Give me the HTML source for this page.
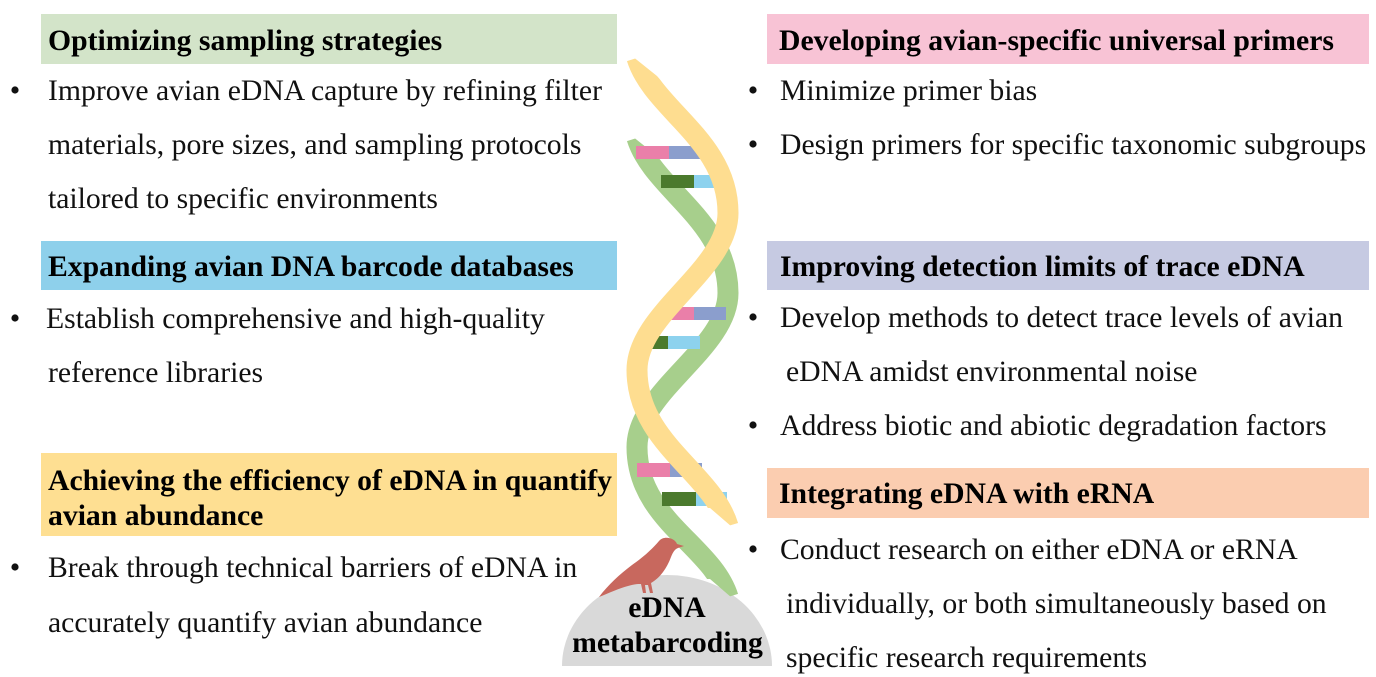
<!DOCTYPE html>
<html>
<head>
<meta charset="utf-8">
<style>
html,body{margin:0;padding:0;background:#fff;}
svg{display:block;}
text{font-family:"Liberation Serif","Times New Roman",serif;font-size:29.7px;fill:#111;font-variant-ligatures:none;}
.b{font-weight:bold;fill:#000;}
</style>
</head>
<body>
<svg width="1376" height="677" viewBox="0 0 1376 677" xmlns="http://www.w3.org/2000/svg">
<defs>
  <clipPath id="cy">
    <polygon points="560,52 627,52 657,76 674,95 698,114 800,114 800,533 739,533 710,508 560,508"/>
  </clipPath>
  <clipPath id="cg">
    <polygon points="560,132 627,132 657,156 674,175 698,194 800,194 800,604 739,604 710,579 560,579"/>
  </clipPath>
</defs>
<rect width="1376" height="677" fill="#fff"/>

<!-- header boxes -->
<rect x="41" y="14" width="576" height="50" fill="#d3e4c9"/>
<rect x="41" y="241" width="576" height="49" fill="#8ed0eb"/>
<rect x="41" y="453" width="576" height="83" fill="#fedf92"/>
<rect x="767" y="14" width="602" height="50" fill="#f8c3d5"/>
<rect x="767" y="241" width="602" height="49" fill="#c6cae2"/>
<rect x="767" y="468" width="602" height="50" fill="#fbcdb0"/>

<!-- dome -->
<path d="M562,666 A105,91 0 0 1 772,666 Z" fill="#d9d9d9"/>

<!-- green strand -->
<path clip-path="url(#cg)" d="M637,138 C653,190 728,220 728,293 C728,349 637,391 637,447 C637,520 712,545 728,597" fill="none" stroke="#a7cf8c" stroke-width="21"/>

<!-- rungs -->
<rect x="636" y="146" width="33" height="13" fill="#ea7fa9"/>
<rect x="669" y="146" width="31" height="13" fill="#8b9ecd"/>
<rect x="661" y="175" width="33" height="13" fill="#4b7a2d"/>
<rect x="694" y="175" width="31" height="13" fill="#8dd2ee"/>
<rect x="663" y="307" width="31" height="13" fill="#ea7fa9"/>
<rect x="694" y="307" width="32" height="13" fill="#8b9ecd"/>
<rect x="637" y="336" width="31" height="13" fill="#4b7a2d"/>
<rect x="668" y="336" width="32" height="13" fill="#8dd2ee"/>
<rect x="637" y="463" width="33" height="14" fill="#ea7fa9"/>
<rect x="670" y="463" width="32" height="14" fill="#8b9ecd"/>
<rect x="662" y="492" width="34" height="14" fill="#4b7a2d"/>
<rect x="696" y="492" width="31" height="14" fill="#8dd2ee"/>

<!-- yellow strand -->
<path clip-path="url(#cy)" d="M637,58 C653,110 728,140 728,213 C728,270 637,313 637,370 C637,443 712,472 728,526" fill="none" stroke="#fedd90" stroke-width="21"/>

<!-- bird -->
<path d="M684,546 L677,544 C675,538 664,535 659,541 C653,548 645,556 632,565 C620,574 608,585 599,597 C609,593 620,588 628,586 C634,584 638,584 641,584 L643,593 L646,593 L645,585 L648,585 L650,593 L653,593 L651,583 C660,578 667,568 671,557 C673,552 675,549 678,548 Z" fill="#c8685e"/>

<!-- dome text -->
<text class="b" x="667" y="617" text-anchor="middle">eDNA</text>
<text class="b" x="667.5" y="652" text-anchor="middle">metabarcoding</text>

<!-- bullets -->
<g fill="#111">
  <circle cx="15" cy="90" r="3.6"/>
  <circle cx="15" cy="318" r="3.6"/>
  <circle cx="15" cy="567" r="3.6"/>
  <circle cx="753" cy="90" r="3.6"/>
  <circle cx="753" cy="144" r="3.6"/>
  <circle cx="753" cy="317" r="3.6"/>
  <circle cx="753" cy="425" r="3.6"/>
  <circle cx="753" cy="549" r="3.6"/>
</g>

<!-- left column text -->
<text class="b" x="48" y="50">Optimizing sampling strategies</text>
<text x="48" y="100">Improve avian eDNA capture by refining filter</text>
<text x="48" y="154">materials, pore sizes, and sampling protocols</text>
<text x="48" y="208">tailored to specific environments</text>

<text class="b" x="48" y="276">Expanding avian DNA barcode databases</text>
<text x="46" y="328">Establish comprehensive and high-quality</text>
<text x="48" y="382">reference libraries</text>

<text class="b" x="48" y="490">Achieving the efficiency of eDNA in quantify</text>
<text class="b" x="48" y="525">avian abundance</text>
<text x="48" y="577">Break through technical barriers of eDNA in</text>
<text x="48" y="632">accurately quantify avian abundance</text>

<!-- right column text -->
<text class="b" x="779" y="50">Developing avian-specific universal primers</text>
<text x="780" y="100">Minimize primer bias</text>
<text x="780" y="154">Design primers for specific taxonomic subgroups</text>

<text class="b" x="780" y="276">Improving detection limits of trace eDNA</text>
<text x="780" y="327">Develop methods to detect trace levels of avian</text>
<text x="786" y="381">eDNA amidst environmental noise</text>
<text x="780" y="435">Address biotic and abiotic degradation factors</text>

<text class="b" x="779" y="503">Integrating eDNA with eRNA</text>
<text x="780" y="559">Conduct research on either eDNA or eRNA</text>
<text x="786" y="613">individually, or both simultaneously based on</text>
<text x="786" y="667">specific research requirements</text>
</svg>
</body>
</html>
